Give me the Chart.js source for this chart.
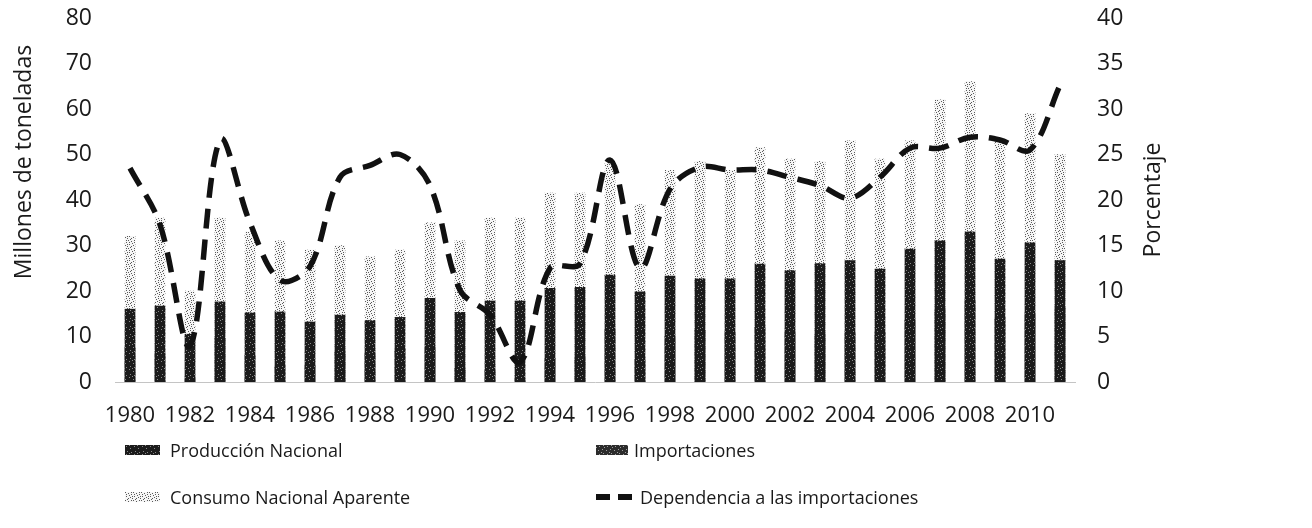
<!DOCTYPE html>
<html><head><meta charset="utf-8">
<script src="https://cdn.jsdelivr.net/npm/chart.js@4.4.1/dist/chart.umd.min.js"></script>
<style>
html,body{margin:0;padding:0;background:#fff;}
#wrap{position:relative;width:1312px;height:528px;overflow:hidden;}
#c{position:absolute;left:0;top:0;}
.leg{position:absolute;display:flex;align-items:center;font-family:'Open Sans',sans-serif;font-size:18px;line-height:26px;color:#1a1a1a;white-space:nowrap;}
</style></head><body>
<div id="wrap"><canvas id="c" width="1312" height="528"></canvas><div id="legend"></div></div>
<script>
const years = ['1980','1981','1982','1983','1984','1985','1986','1987','1988','1989','1990','1991','1992','1993','1994','1995','1996','1997','1998','1999','2000','2001','2002','2003','2004','2005','2006','2007','2008','2009','2010','2011'];
const produccion = [16, 16.7, 10.5, 17.6, 15.2, 15.4, 13.2, 14.7, 13.5, 14.2, 18.4, 15.3, 17.8, 17.8, 20.6, 20.8, 23.5, 19.8, 23.3, 22.7, 22.7, 25.9, 24.5, 26, 26.7, 24.8, 29.2, 31, 33, 27, 30.6, 26.7];
const importaciones = [7.5, 6.2, 0.8, 9.6, 5.8, 3.5, 3.7, 6.8, 6.5, 7.3, 7.6, 3.1, 2.7, 0.8, 5.2, 5.4, 11.7, 4.9, 10, 11.4, 10.8, 12, 11, 10.5, 10.7, 11, 13.6, 15.9, 17.8, 14.1, 15, 16.3];
const consumo = [32, 36, 20, 36, 33, 31, 29, 30, 27.5, 29, 35, 31, 36, 36, 41.5, 41.5, 48, 39, 46.5, 48.5, 46.5, 51.5, 49, 48.5, 53, 49, 53, 62, 66, 53, 59, 50];
const dependencia = [23.5, 17.3, 4, 26.6, 17.5, 11.2, 12.7, 22.5, 23.8, 25, 21.6, 10.1, 7.4, 2.2, 12.5, 13, 24.4, 12.5, 21.2, 23.6, 23.3, 23.3, 22.5, 21.6, 20.2, 22.5, 25.7, 25.7, 26.9, 26.6, 25.5, 32.6];
const seriesNames = ['Producción Nacional', 'Importaciones', 'Consumo Nacional Aparente', 'Dependencia a las importaciones'];
const leftTitle = 'Millones de toneladas';
const rightTitle = 'Porcentaje';

const FONT = "'Open Sans', sans-serif";
const TXT = '#1a1a1a';

function makePattern(bg, dot, spots, size) {
  const cv = document.createElement('canvas');
  cv.width = size; cv.height = size;
  const g = cv.getContext('2d');
  g.fillStyle = bg; g.fillRect(0, 0, size, size);
  g.fillStyle = dot;
  spots.forEach(p => g.fillRect(p[0], p[1], 1, 1));
  return cv;
}
const prodCanvas = makePattern('#1b1b1b', '#8a8a8a', [[1,1],[5,3],[2,6],[6,7],[4,0]], 8);
const impCanvas = makePattern('#2c2c2c', '#a0a0a0', [[0,2],[3,1],[6,4],[2,5],[5,7],[7,0]], 8);
const consCanvas = makePattern('#f6f6f6', '#5a5a5a', [[0,0],[3,1],[6,2],[1,4],[5,5],[2,7],[7,6],[4,3],[1,2],[6,0],[3,6],[7,4]], 8);

const ctx = document.getElementById('c').getContext('2d');
const prodPat = ctx.createPattern(prodCanvas, 'repeat');
const impPat = ctx.createPattern(impCanvas, 'repeat');
const consPat = ctx.createPattern(consCanvas, 'repeat');

const titlesPlugin = {
  id: 'axisTitles',
  afterDraw(chart) {
    const c = chart.ctx;
    c.save();
    c.font = '23px ' + FONT;
    c.fillStyle = TXT;
    c.textAlign = 'center';
    c.textBaseline = 'middle';
    c.translate(24, 162); c.rotate(-Math.PI / 2); c.fillText(leftTitle, 0, 0);
    c.restore();
    c.save();
    c.font = '23px ' + FONT;
    c.fillStyle = TXT;
    c.textAlign = 'center';
    c.textBaseline = 'middle';
    c.translate(1153, 200); c.rotate(-Math.PI / 2); c.fillText(rightTitle, 0, 0);
    c.restore();
  }
};

const chart = new Chart(ctx, {
  data: {
    labels: years,
    datasets: [
      { type: 'line', label: seriesNames[3], data: dependencia, yAxisID: 'y1', borderColor: '#111', borderWidth: 5.5, borderDash: [20, 11], pointRadius: 0, tension: 0.35, fill: false, order: 0 },
      { type: 'bar', label: seriesNames[0], data: produccion, yAxisID: 'y', backgroundColor: prodPat, barThickness: 10, grouped: false, order: 1 },
      { type: 'bar', label: seriesNames[1], data: importaciones, yAxisID: 'y', backgroundColor: impPat, barThickness: 10, grouped: false, order: 2 },
      { type: 'bar', label: seriesNames[2], data: consumo, yAxisID: 'y', backgroundColor: consPat, barThickness: 10, grouped: false, order: 3 }
    ]
  },
  options: {
    responsive: false,
    animation: false,
    devicePixelRatio: 1,
    layout: { padding: { top: 18, bottom: 0, left: 0, right: 0 } },
    plugins: { legend: { display: false }, tooltip: { enabled: false } },
    scales: {
      x: {
        offset: true,
        grid: { display: false, drawTicks: false },
        border: { display: true, color: '#c4c4c4', dash: [1, 3] },
        ticks: {
          autoSkip: false, maxRotation: 0, minRotation: 0, padding: 21,
          font: { family: FONT, size: 22 }, color: TXT,
          callback: function(v, i) { return i % 2 === 0 ? this.getLabelForValue(v) : ''; }
        },
        afterFit(s) { s.height = 146; }
      },
      y: {
        position: 'left', min: 0, max: 80,
        grid: { display: false, drawTicks: true, tickLength: 23 },
        border: { display: false },
        ticks: { stepSize: 10, padding: 0, font: { family: FONT, size: 23 }, color: TXT },
        afterFit(s) { s.width = 115; }
      },
      y1: {
        position: 'right', min: 0, max: 40,
        grid: { display: false, drawTicks: true, tickLength: 22 },
        border: { display: false },
        ticks: { stepSize: 5, padding: 0, font: { family: FONT, size: 23 }, color: TXT },
        afterFit(s) { s.width = 237; }
      }
    }
  },
  plugins: [titlesPlugin]
});

// HTML legend (2 x 2), built from the chart's datasets
const legendPos = {};
legendPos[seriesNames[0]] = { left: 125, top: 437, sw: 35, gap: 10 };
legendPos[seriesNames[1]] = { left: 596, top: 437, sw: 32, gap: 6 };
legendPos[seriesNames[2]] = { left: 125, top: 484, sw: 35, gap: 10 };
legendPos[seriesNames[3]] = { left: 596, top: 484, sw: 36, gap: 8 };
const legendEl = document.getElementById('legend');
chart.data.datasets.forEach(ds => {
  const p = legendPos[ds.label];
  const item = document.createElement('div');
  item.className = 'leg';
  item.style.left = p.left + 'px';
  item.style.top = p.top + 'px';
  const sw = document.createElement('canvas');
  sw.width = p.sw; sw.height = 10;
  sw.style.marginRight = p.gap + 'px';
  const g = sw.getContext('2d');
  if (ds.type === 'line') {
    g.fillStyle = '#111';
    g.fillRect(0, 2, 14, 6);
    g.fillRect(22, 2, 14, 6);
  } else {
    const src = ds.label === seriesNames[0] ? prodCanvas : (ds.label === seriesNames[1] ? impCanvas : consCanvas);
    g.fillStyle = g.createPattern(src, 'repeat');
    g.fillRect(0, 0, p.sw, 10);
  }
  item.appendChild(sw);
  const t = document.createElement('span');
  t.textContent = ds.label;
  item.appendChild(t);
  legendEl.appendChild(item);
});
</script>
</body></html>
